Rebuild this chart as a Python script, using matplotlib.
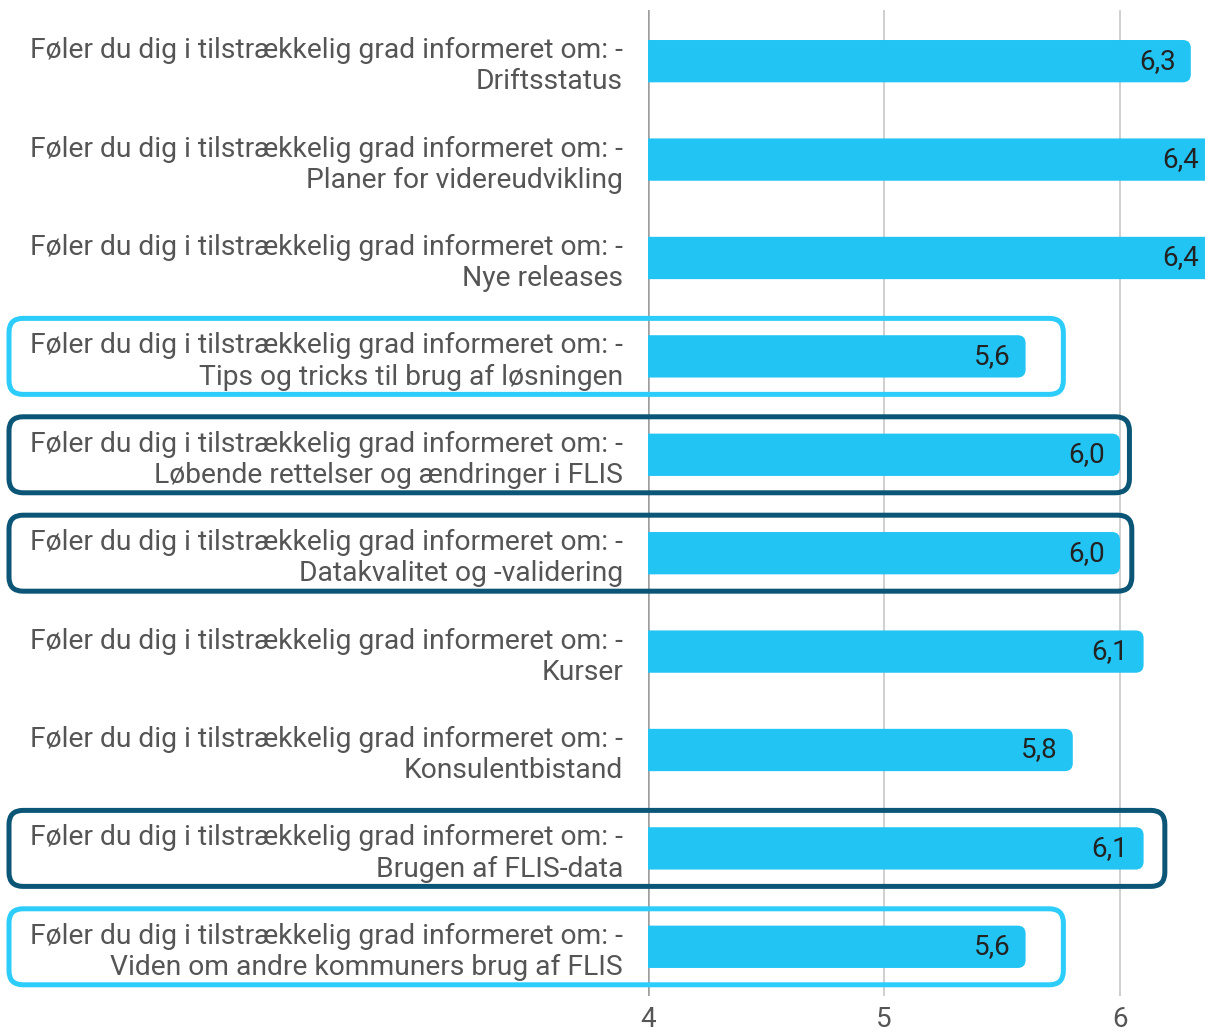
import matplotlib.pyplot as plt
from matplotlib.patches import FancyBboxPatch

plt.rcParams["font.family"] = ["Roboto", "DejaVu Sans"]

# Data
prefix = "Føler du dig i tilstrækkelig grad informeret om: -"
topics = [
    "Driftsstatus",
    "Planer for videreudvikling",
    "Nye releases",
    "Tips og tricks til brug af løsningen",
    "Løbende rettelser og ændringer i FLIS",
    "Datakvalitet og -validering",
    "Kurser",
    "Konsulentbistand",
    "Brugen af FLIS-data",
    "Viden om andre kommuners brug af FLIS",
]
values = [6.3, 6.4, 6.4, 5.6, 6.0, 6.0, 6.1, 5.8, 6.1, 5.6]
x_ticks = [4, 5, 6]

# highlighted rows: (row, colour key, right edge of the box in data units)
highlights = [
    (3, "light", 5.76),
    (4, "dark", 6.04),
    (5, "dark", 6.05),
    (8, "dark", 6.19),
    (9, "light", 5.76),
]

BAR = "#22c4f3"
BOX = {"light": "#2ccdfb", "dark": "#0b5677"}

W, H, DPI = 1205, 1035, 100
fig = plt.figure(figsize=(W / DPI, H / DPI), dpi=DPI)
ax = fig.add_axes([648 / W, 1 - 996 / H, 1 - 648 / W, (996 - 10) / H])

rows = list(range(len(values)))
ax.set_xlim(4, 4 + (W - 648) / 236)
ax.set_ylim(len(values) - 0.5, -0.52)

# grid lines
for t in x_ticks:
    ax.axvline(t, color="#9e9e9e" if t == 4 else "#cccccc",
               lw=1.8 if t == 4 else 1.3, zorder=0)

# bars with rounded right end
bars = ax.barh(rows, values, height=0.43, color=BAR)
x_px = 236.0
y_px = 98.6
r = 8 / x_px
for rect in bars:
    x0, y0 = rect.get_x(), rect.get_y()
    w, h = rect.get_width(), rect.get_height()
    rect.remove()
    ax.add_patch(FancyBboxPatch(
        (x0, y0), w, h,
        boxstyle=f"round,pad=0,rounding_size={r}",
        mutation_aspect=x_px / y_px,
        fc=BAR, ec="none", zorder=2,
    ))

for i, v in zip(rows, values):
    ax.annotate(
        f"{v:.1f}".replace(".", ","),
        xy=(v, i), xytext=(-11, 0), textcoords="offset points",
        ha="right", va="center", fontsize=20, color="#222222", zorder=3,
        annotation_clip=False,
    )

ax.set_yticks(rows)
ax.set_yticklabels([f"{prefix}\n{t}" for t in topics],
                   fontsize=20.3, color="#555555", linespacing=1.2,
                   ha="right", multialignment="right")
ax.tick_params(axis="y", length=0, pad=18)
ax.set_xticks(x_ticks)
ax.set_xticklabels([str(t) for t in x_ticks], fontsize=20, color="#555555")
ax.tick_params(axis="x", length=0, pad=7)
for s in ax.spines.values():
    s.set_visible(False)

# highlight boxes drawn in pixel space
fig.canvas.draw()
for row, key, x_end in highlights:
    _, yc = ax.transData.transform((4, row))
    xe, _ = ax.transData.transform((x_end, row))
    left = 9
    bh = 76
    fig.patches.append(FancyBboxPatch(
        (left, yc - bh / 2), xe - left, bh,
        boxstyle="round,pad=0,rounding_size=14",
        fc="none", ec=BOX[key], lw=3.6,
        transform=None, figure=fig, zorder=5,
    ))

fig.savefig("out.png", dpi=DPI)
